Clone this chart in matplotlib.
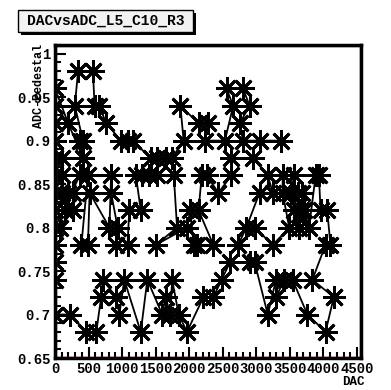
import matplotlib
matplotlib.use('Agg')

import matplotlib.pyplot as plt
from matplotlib.patches import Rectangle
from matplotlib.ticker import MultipleLocator

# DAC scan points, in the order they were taken
dac = [3367, 3048, 2802, 2753, 2900, 2802, 2556, 2655, 2532, 2237, 2286, 2139, 1868, 1917,
       1745, 1647, 1524, 1426, 1155, 1081, 984, 762, 660, 590, 565, 344, 295, 418, 369, 418,
       196, 0, 0, 0, 0, 0, 100, 0, 100, 0, 100, 200, 270, 147, 0, 270, 74, 0,
       369, 491, 393, 491, 516, 811, 836, 836, 934, 910, 1081, 1106, 1278, 1205, 1303, 1401,
       1524, 1770, 1819, 1500, 1966, 2016,
       2065, 2114, 2360, 2139, 2187, 2261, 2434, 2630, 2630, 2950, 3171, 3245, 3048, 2851,
       2729, 2975, 3245, 3490, 3392, 3392, 3564, 3515, 3564, 3638, 3614, 3662, 3687, 3712,
       3786, 3884, 3933, 3957, 4056,
       4105, 4031, 3835, 4155, 4155, 4031, 3761, 3540, 3417, 3294, 3294, 3171, 2975, 2900,
       2606, 2483, 2360, 2212, 1966, 1844, 1745, 1721, 1647, 1598, 1376, 1278, 1032, 959,
       910, 713, 688, 615, 467, 221, 0, 0, 0, 0]
adc = [0.90, 0.90, 0.90, 0.92, 0.94, 0.96, 0.96, 0.94, 0.90, 0.90, 0.92, 0.92, 0.94, 0.90,
       0.88, 0.88, 0.88, 0.88, 0.90, 0.90, 0.90, 0.92, 0.94, 0.94, 0.98, 0.98, 0.94, 0.90,
       0.90, 0.88,
       0.92, 0.96, 0.94, 0.92, 0.90, 0.88, 0.88, 0.86, 0.86, 0.84, 0.84, 0.84, 0.84, 0.82,
       0.82, 0.82, 0.80, 0.80,
       0.86, 0.86, 0.78, 0.78, 0.84, 0.80, 0.86, 0.84, 0.80, 0.78, 0.78, 0.82, 0.82, 0.86,
       0.86, 0.86, 0.86, 0.86, 0.80, 0.78, 0.80, 0.82,
       0.78, 0.78, 0.78, 0.82, 0.86, 0.86, 0.84, 0.86, 0.88, 0.88, 0.86, 0.84, 0.84, 0.80,
       0.78, 0.80, 0.78, 0.80, 0.84, 0.86, 0.86, 0.84, 0.82, 0.80, 0.84, 0.82, 0.84, 0.82,
       0.80, 0.86, 0.86, 0.82, 0.82,
       0.78, 0.78, 0.74, 0.72, 0.72, 0.68, 0.70, 0.74, 0.74, 0.72, 0.74, 0.70, 0.76, 0.76,
       0.76, 0.74, 0.72, 0.72, 0.68, 0.70, 0.74, 0.70, 0.72, 0.70, 0.74, 0.68, 0.74, 0.70,
       0.72, 0.74, 0.72, 0.68, 0.68, 0.70, 0.70, 0.74, 0.76, 0.78]

xticks = [0, 500, 1000, 1500, 2000, 2500, 3000, 3500, 4000, 4500]
yticks = [0.65, 0.7, 0.75, 0.8, 0.85, 0.9, 0.95, 1.0]
ytick_labels = ['0.65', '0.7', '0.75', '0.8', '0.85', '0.9', '0.95', '1']

font = {'family': 'Liberation Mono', 'weight': 'bold'}

W, H = 391, 390
fig = plt.figure(figsize=(W / 100, H / 100), dpi=100)
ax = fig.add_axes([55 / W, 1 - 358 / H, 306 / W, 313 / H])

ax.plot(dac, adc, color='black', lw=1.3, marker=(8, 2, 0), markersize=16,
        markeredgewidth=2.0, markeredgecolor='black', zorder=3)

ax.set_xlim(0, 4560)
ax.set_ylim(0.65, 1.01)

ax.set_xticks(xticks)
ax.set_xticklabels([str(t) for t in xticks], fontdict=font, fontsize=10)
ax.set_yticks(yticks)
ax.set_yticklabels(ytick_labels, fontdict=font, fontsize=10)
ax.xaxis.set_minor_locator(MultipleLocator(100))
ax.yaxis.set_minor_locator(MultipleLocator(0.01))
ax.tick_params(which='both', direction='in', top=False, right=False, width=1.5, color='black')
ax.tick_params(which='major', length=8, pad=3)
ax.tick_params(which='minor', length=4)

# thick black frame with a red line just inside it
for s in ax.spines.values():
    s.set_linewidth(2.5)
    s.set_color('black')
    s.set_zorder(5)
ax.add_patch(Rectangle((0.004, 0.004), 0.992, 0.992, transform=ax.transAxes, fill=False,
                       edgecolor='#d62020', lw=1.0, zorder=4, clip_on=False))

# axis titles, ROOT style: placed at the far end of each axis
fig.text(39 / W, 1 - 44 / H, 'ADC-Pedestal', rotation=90, ha='center', va='top',
         fontsize=8.5, **font)
fig.text(365 / W, 1 - 382 / H, 'DAC', ha='right', va='center', fontsize=9, **font)

# title box with drop shadow
bx0, bx1, by0, by1 = 18, 193, 10, 32
fig.patches.append(Rectangle(((bx0 + 3) / W, 1 - (by1 + 3) / H), (bx1 - bx0) / W, (by1 - by0) / H,
                             transform=fig.transFigure, facecolor='black', edgecolor='none'))
fig.patches.append(Rectangle((bx0 / W, 1 - by1 / H), (bx1 - bx0) / W, (by1 - by0) / H,
                             transform=fig.transFigure, facecolor='#f2f2f2', edgecolor='black', lw=1.0))
fig.text(((bx0 + bx1) / 2) / W, 1 - ((by0 + by1) / 2) / H, 'DACvsADC_L5_C10_R3',
         ha='center', va='center', fontsize=10.5, **font)

fig.savefig('out.png', dpi=100, facecolor='white')
